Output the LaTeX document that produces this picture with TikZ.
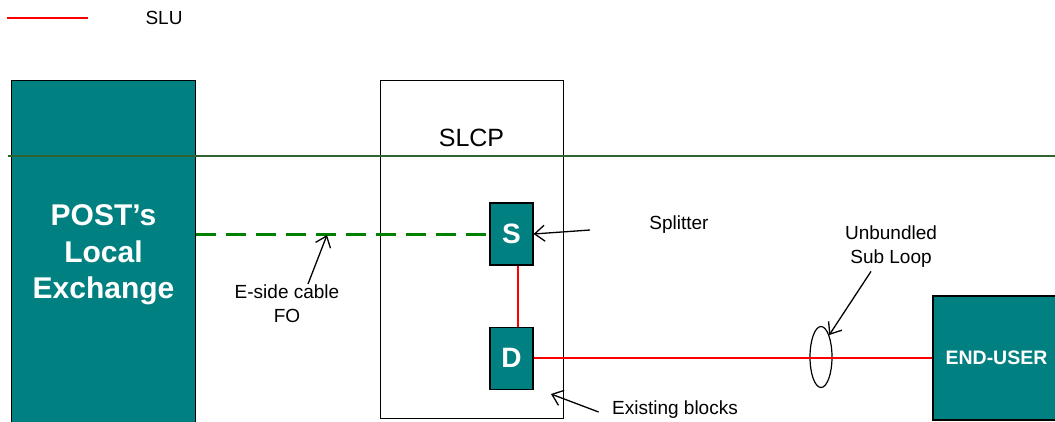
\documentclass[tikz,border=0pt]{standalone}
\usepackage{fontspec}
\setmainfont{Liberation Sans}
\usepackage{tikz}
\usepackage{xcolor}
\usetikzlibrary{shapes}
\usetikzlibrary{calc}
\usetikzlibrary{positioning, arrows.meta}

\definecolor{exchteal}{RGB}{0,128,128}
\definecolor{fogreen}{RGB}{0,128,0}
\definecolor{levelgreen}{RGB}{48,98,50}
\definecolor{slured}{RGB}{255,0,0}

\tikzset{
    tealbox/.style={draw=black, line width=1.2pt, fill=exchteal, text=white, inner sep=0pt},
    unit/.style={tealbox, minimum width=43pt, minimum height=62pt, font=\fontsize{28}{30}\selectfont\bfseries},
    txt/.style={font=\fontsize{19}{24}\selectfont, align=center},
    slu/.style={draw=slured, line width=2pt},
    pointer/.style={-{Straight Barb[length=10pt, width=16pt, line width=1.3pt]}, line width=1.3pt}
}

\begin{document}
\begin{tikzpicture}[x=1pt, y=-1pt]
                \useasboundingbox (0,0) rectangle (1055,421);
                \clip (0,0) rectangle (1055,421);

                % legend
                \coordinate (legA) at (7,18);
                \coordinate (legB) at (88,18);
                \draw[slu] (legA) -- (legB);
                \node [txt] (slulbl) at (164,18) {SLU};

                % exchange and cabinet
                \node [tealbox, anchor=north west, minimum width=184pt, minimum height=360pt] (exch) at (11,80) {};
                \node [font=\fontsize{30}{36.5}\selectfont\bfseries, text=white, align=center] (exchlbl) at (103.5,255) {POST’s\\Local\\Exchange};
                \node [draw=black, line width=1.2pt, anchor=north west, minimum width=183pt, minimum height=338pt] (slcp) at (380,80) {};
                \node [font=\fontsize{25}{28}\selectfont] (slcplbl) at (471.5,138) {SLCP};

                % level line
                \coordinate (lvlA) at (8,156);
                \coordinate (lvlB) at (1060,156);
                \draw [levelgreen, line width=2pt] (lvlA) -- (lvlB);

                % blocks
                \node [unit] (S) at (511.5,234) {S};
                \node [unit, below=61pt of S] (D) {D};
                \node [tealbox, minimum width=127pt, minimum height=124pt, font=\fontsize{19.5}{22}\selectfont\bfseries] (user) at (996.5,358) {END-USER};
                \node [draw=black, ellipse, line width=1.2pt, minimum width=22pt, minimum height=61pt, inner sep=0pt] (ring) at (821,357) {};

                % cables
                \draw [fogreen, line width=3pt, dash pattern=on 20pt off 10pt] (exch.east |- S.west) -- (S.west);
                \draw [slu] ([xshift=6.5pt]S.south) -- ([xshift=6.5pt]D.north);
                \draw [slu] (D.east) -- (D.east -| user.west);

                % labels
                \node [txt] (esidelbl) at (287,303.5) {E-side cable\\FO};
                \coordinate (fotip) at (327,235);
                \draw [pointer] ([xshift=21pt, yshift=-3pt]esidelbl.north) -- (fotip);

                \node [txt] (splitlbl) at (679,225) {Splitter};
                \coordinate (splittail) at (590,230);
                \draw [pointer] (splittail) -- (S.east);

                \node [txt] (sublbl) at (891,247) {Unbundled\\Sub Loop};
                \draw [pointer] ([xshift=-20pt]sublbl.south) -- (ring.north east);

                \node [txt] (blockslbl) at (675,410) {Existing blocks};
                \coordinate (blockstip) at (551,394);
                \draw [pointer] ([xshift=-10pt, yshift=-2pt]blockslbl.west) -- (blockstip);
            \end{tikzpicture}
\end{document}
